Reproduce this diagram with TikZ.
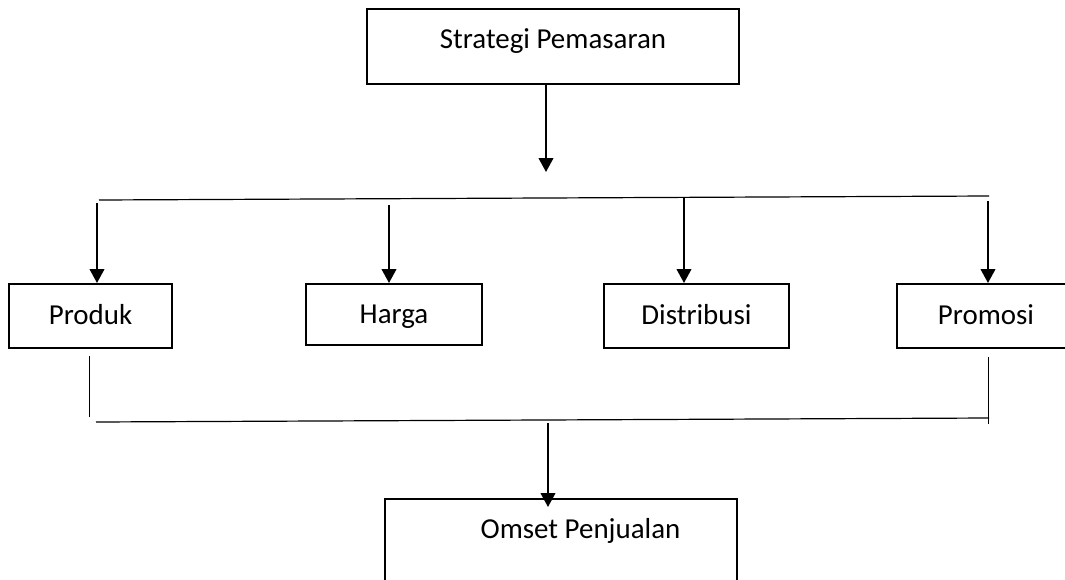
\documentclass[tikz,border=0pt]{standalone}
\usepackage{fontspec}
\setmainfont{Carlito}
\usetikzlibrary{arrows.meta}

\tikzset{
  kotak/.style={draw, line width=1.5pt, inner sep=0pt, text height=14pt, text depth=1.25pt,
    font=\fontsize{21.7}{26}\selectfont},
  panah/.style={-{Triangle[width=11pt,length=10.5pt]}, line width=1.5pt},
  garis/.style={line width=0.9pt},
  tipis/.style={line width=0.7pt}
}

\begin{document}
\begin{tikzpicture}[x=0.75pt,y=-0.75pt]
\useasboundingbox (0,0) rectangle (1065,579);

\node[kotak, minimum width=279pt, text height=29.25pt, text depth=27pt] (strategi) at (553,46.5) {Strategi Pemasaran};

\node[kotak, minimum width=122.25pt, minimum height=48pt] (produk) at (90.5,316) {Produk};
\node[kotak, minimum width=132pt, minimum height=45.75pt] (harga) at (394,314.5) {Harga};
\node[kotak, minimum width=138.75pt, minimum height=48pt] (distribusi) at (696.5,316) {Distribusi};
\node[kotak, minimum width=133.5pt, minimum height=48pt] (promosi) at (986,316) {Promosi};

\node[kotak, minimum width=264pt, text height=29.25pt, text depth=39pt] (omset) at (561,544.5) {\hspace*{29.25pt}Omset Penjualan};

% garis atas
\coordinate (ujung) at (546,172);
\draw[panah] (ujung |- strategi.south) -- (ujung);
\coordinate (atasKiri) at (99,200);
\coordinate (atasKanan) at (989,196);
\draw[garis] (atasKiri) -- (atasKanan);

\coordinate (a1) at (97,203);
\coordinate (a2) at (389,205);
\coordinate (a3) at (684,197);
\coordinate (a4) at (988,201);
\draw[panah] (a1) -- (a1 |- produk.north);
\draw[panah] (a2) -- (a2 |- harga.north);
\draw[panah] (a3) -- (a3 |- distribusi.north);
\draw[panah] (a4) -- (a4 |- promosi.north);

% garis bawah
\coordinate (b1) at (89,356);
\coordinate (b2) at (89,417);
\coordinate (b3) at (988,357);
\coordinate (b4) at (988,424);
\draw[tipis] (b1) -- (b2);
\draw[tipis] (b3) -- (b4);
\coordinate (bawahKiri) at (96,422);
\coordinate (bawahKanan) at (989,418);
\draw[garis] (bawahKiri) -- (bawahKanan);

\coordinate (c1) at (548,423);
\coordinate (c2) at (548,507);
\draw[panah] (c1) -- (c2);
\end{tikzpicture}
\end{document}
